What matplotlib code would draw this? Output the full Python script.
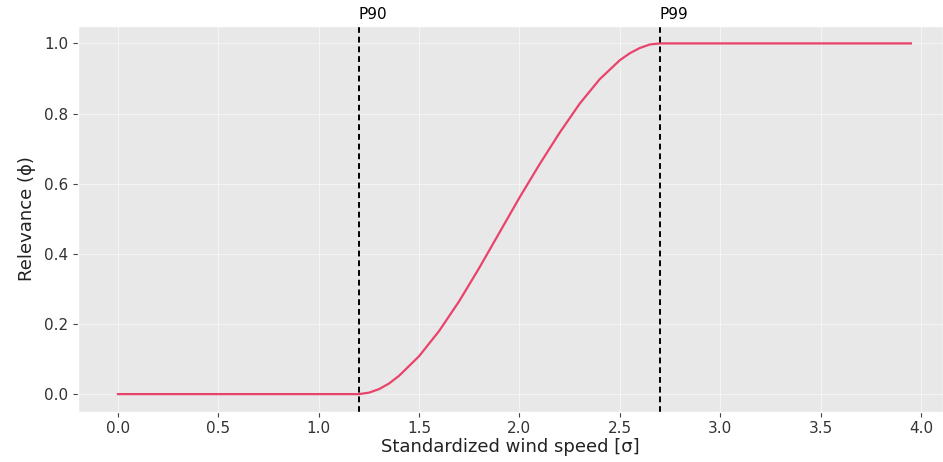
import numpy as np
import matplotlib
matplotlib.use("Agg")
import matplotlib.pyplot as plt

plt.style.use("ggplot")

# Relevance curve
speed = [0.0, 0.5, 1.0, 1.2, 1.25, 1.3, 1.35, 1.4, 1.5, 1.6, 1.7, 1.8, 1.9,
         2.0, 2.1, 2.2, 2.3, 2.4, 2.5, 2.55, 2.6, 2.65, 2.7, 3.0, 3.5, 3.95]
relevance = [0.0, 0.0, 0.0, 0.0, 0.004, 0.014, 0.03, 0.052, 0.108, 0.18, 0.265,
             0.36, 0.46, 0.56, 0.655, 0.745, 0.828, 0.898, 0.952, 0.972, 0.987,
             0.997, 1.0, 1.0, 1.0, 1.0]

# Percentile thresholds
p_names = ["P90", "P99"]
p_values = [1.2, 2.7]

fig = plt.figure(figsize=(9.43, 4.62), dpi=100)
ax = fig.add_axes([0.083, 0.109, 0.917, 0.835])
ax.set_facecolor("#E8E8E8")
ax.grid(True, color="#F4F4F4", linewidth=0.8)

ax.plot(speed, relevance, color="#E8436A", linewidth=1.6)

for name, p in zip(p_names, p_values):
    ax.axvline(p, color="black", linestyle=(0, (3, 2)), linewidth=1.4)
    ax.text(p, 1.07, name, ha="left", va="baseline", fontsize=11, color="black")

ax.set_xlim(-0.1975, 4.11)
ax.set_ylim(-0.05, 1.05)
ax.set_xticks(np.arange(0, 4.01, 0.5))
ax.set_yticks(np.arange(0, 1.01, 0.2))
ax.tick_params(labelsize=11, colors="#444444", labelcolor="#333333")
ax.set_xlabel("Standardized wind speed [σ]", fontsize=13, color="#222222", labelpad=1)
ax.set_ylabel("Relevance (ϕ)", fontsize=13, color="#222222", labelpad=6)

fig.savefig("out.png", dpi=100)
